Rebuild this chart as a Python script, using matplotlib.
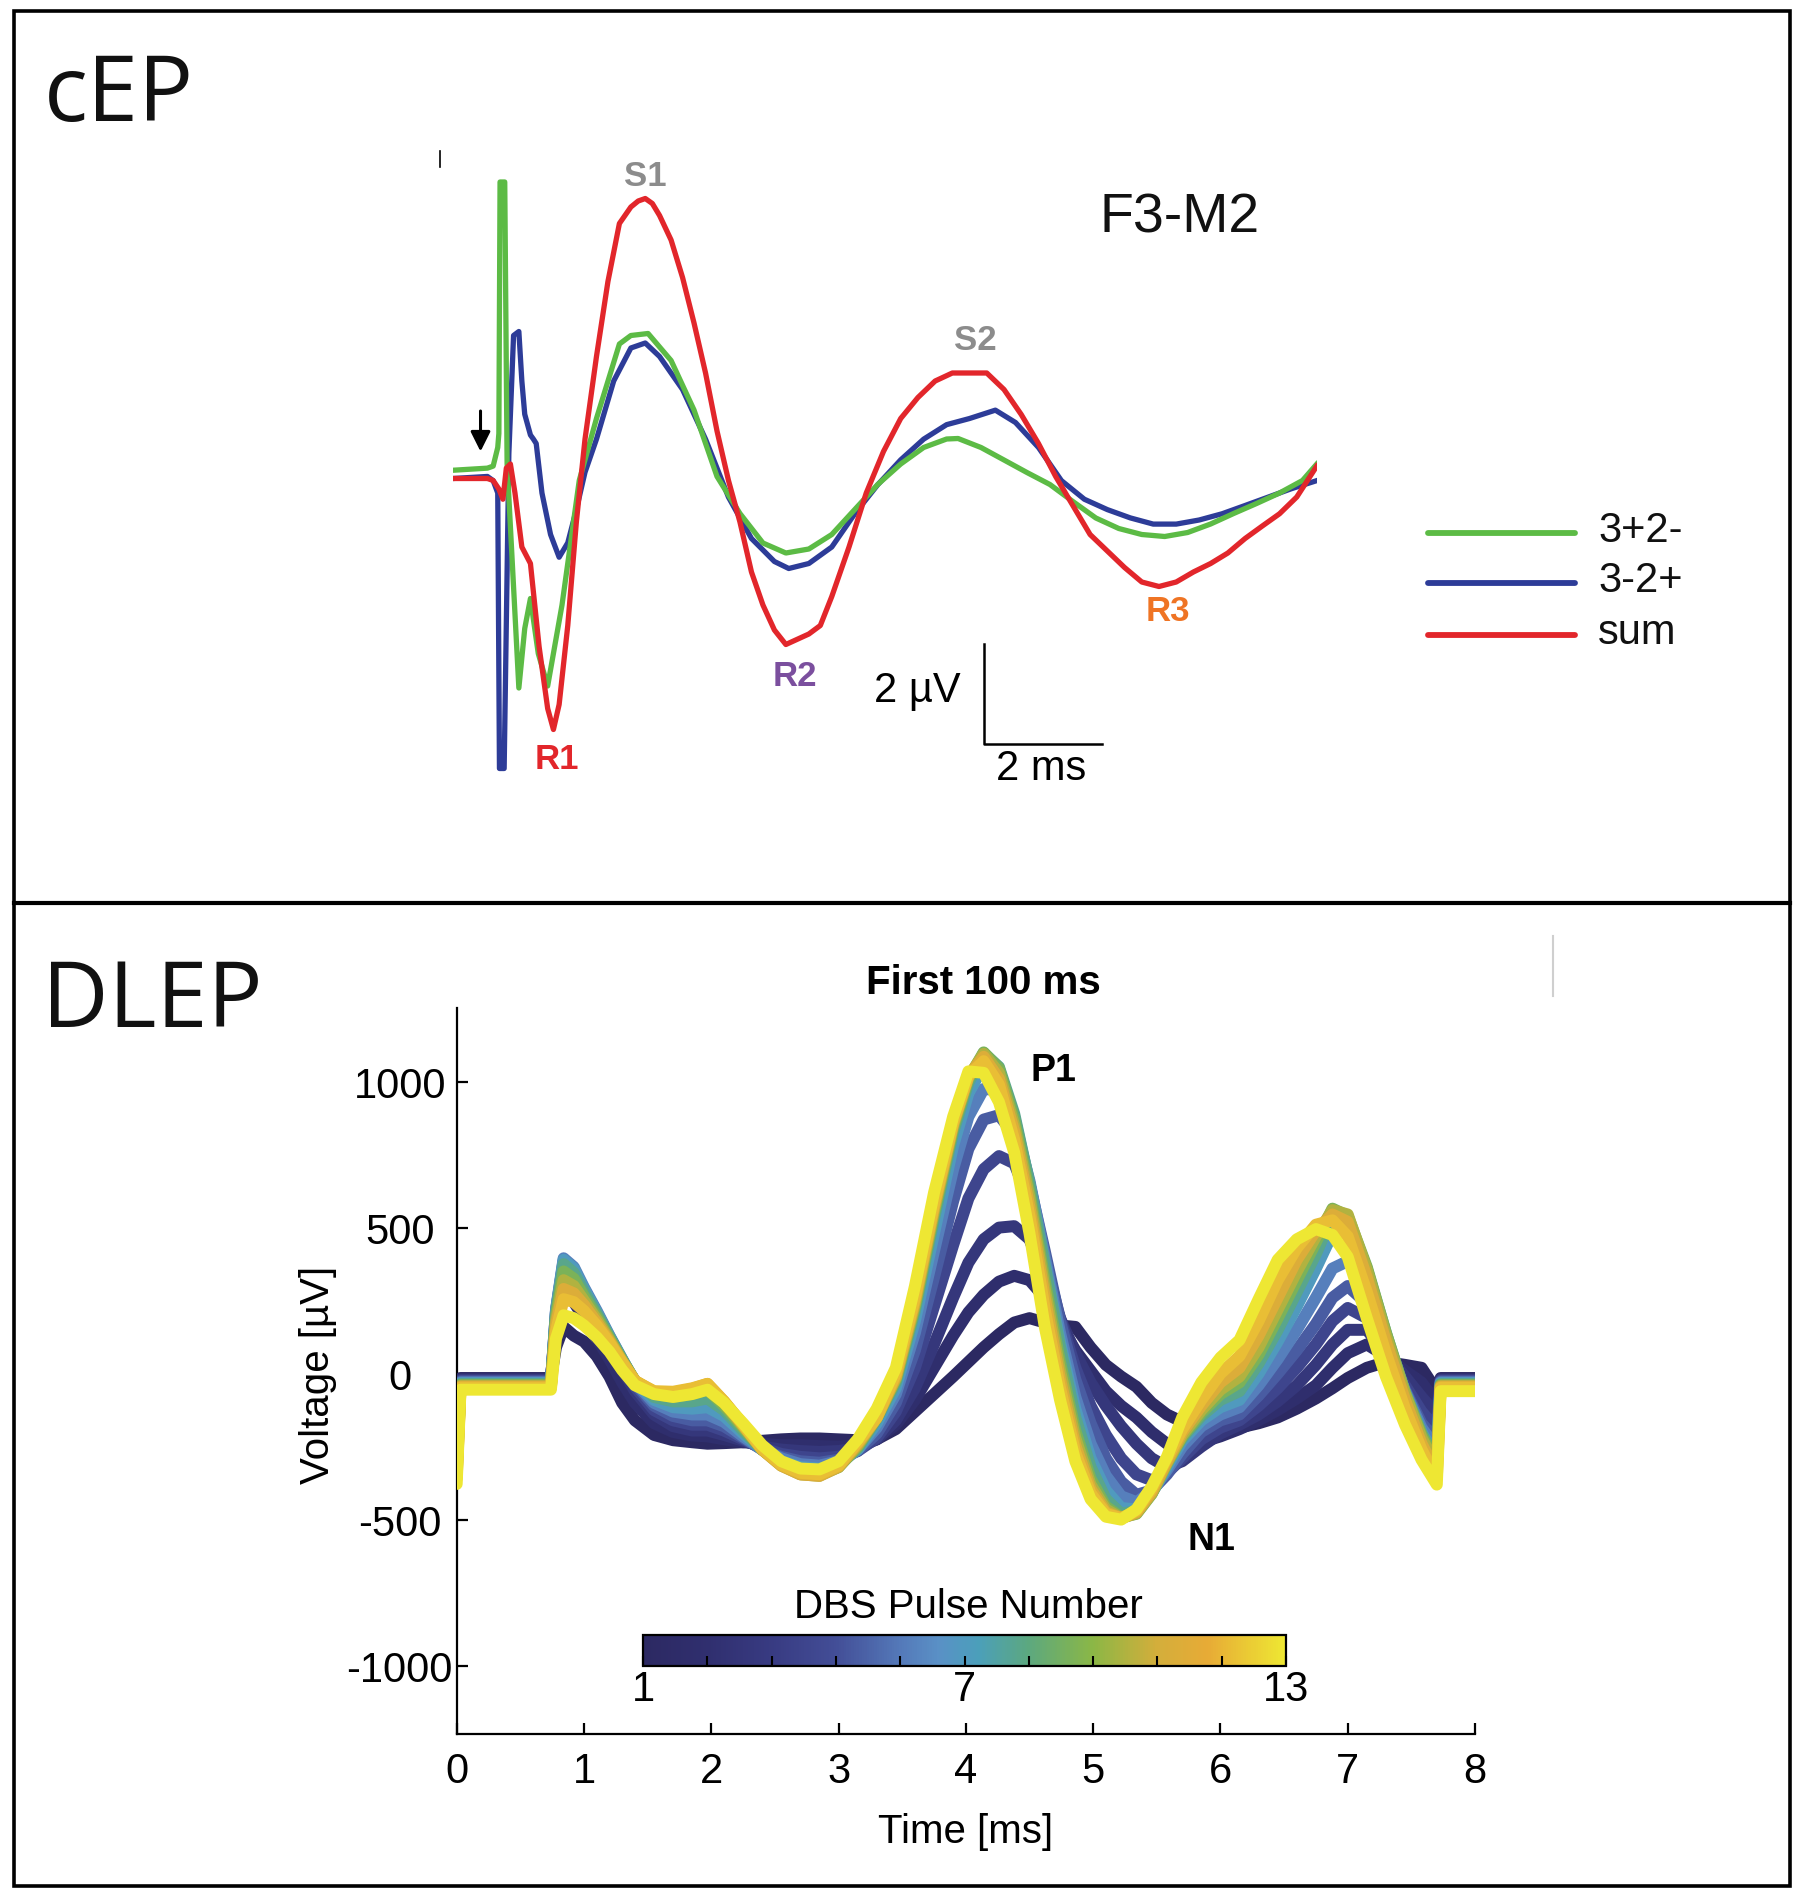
import numpy as np
import matplotlib
matplotlib.use("Agg")
import matplotlib.pyplot as plt
from matplotlib.colors import LinearSegmentedColormap, Normalize
from matplotlib.cm import ScalarMappable
from matplotlib.patches import Rectangle

plt.rcParams['font.family'] = ['Liberation Sans', 'DejaVu Sans']

# ---------------- cEP panel data (time in ms, amplitude in uV) ----------------
cep_green_t = [0.0, 0.585, 0.683, 0.761, 0.78, 0.80, 0.88, 0.92, 1.12, 1.22,
               1.317, 1.45, 1.61, 1.854, 2.147, 2.44, 2.83, 3.025, 3.318, 3.709,
               4.099, 4.49, 4.88, 5.271, 5.661, 6.052, 6.442, 6.833, 7.223, 7.614,
               8.004, 8.395, 8.59, 8.98, 9.371, 9.761, 10.152, 10.542, 10.933, 11.323,
               11.714, 12.104, 12.495, 12.885, 13.276, 13.666, 14.057, 14.447, 14.691]
cep_green_v = [0.165, 0.207, 0.248, 0.62, 0.9, 5.93, 5.93, 0.3, -4.19, -3.0,
               -2.40, -3.5, -4.15, -2.53, -0.04, 1.20, 2.69, 2.86, 2.90, 2.36,
               1.37, 0.04, -0.70, -1.29, -1.49, -1.41, -1.12, -0.62, -0.12, 0.29,
               0.62, 0.79, 0.80, 0.62, 0.37, 0.12, -0.12, -0.46, -0.79, -1.0,
               -1.12, -1.16, -1.08, -0.91, -0.70, -0.50, -0.29, -0.04, 0.29]

cep_blue_t = [0.0, 0.585, 0.683, 0.761, 0.79, 0.87, 0.95, 1.03, 1.12, 1.171,
              1.22, 1.317, 1.366, 1.415, 1.513, 1.659, 1.805, 1.952, 2.098, 2.245,
              2.44, 2.733, 3.025, 3.27, 3.513, 3.904, 4.295, 4.685, 5.076, 5.466,
              5.71, 6.052, 6.442, 6.833, 7.223, 7.614, 8.004, 8.395, 8.785, 9.224,
              9.566, 9.957, 10.347, 10.738, 11.128, 11.519, 11.909, 12.30, 12.69, 13.081,
              13.471, 13.862, 14.252, 14.691]
cep_blue_v = [0.0, 0.041, -0.042, -0.29, -5.8, -5.8, 0.5, 2.86, 2.94, 1.95,
              1.285, 0.87, 0.79, 0.70, -0.29, -1.12, -1.575, -1.286, -0.622, 0.124,
              0.787, 1.95, 2.61, 2.71, 2.44, 1.78, 0.787, -0.373, -1.20, -1.66,
              -1.80, -1.70, -1.37, -0.705, -0.125, 0.373, 0.787, 1.077, 1.20, 1.367,
              1.12, 0.621, -0.042, -0.415, -0.622, -0.788, -0.912, -0.912, -0.83, -0.705,
              -0.54, -0.373, -0.207, -0.042]

cep_red_t = [0.0, 0.585, 0.683, 0.78, 0.849, 0.907, 0.976, 1.054, 1.171, 1.317,
             1.464, 1.61, 1.708, 1.805, 1.952, 2.098, 2.245, 2.44, 2.635, 2.83,
             3.025, 3.15, 3.27, 3.39, 3.513, 3.709, 3.904, 4.099, 4.295, 4.49,
             4.685, 4.88, 5.076, 5.271, 5.466, 5.661, 6.052, 6.247, 6.442, 6.735,
             7.028, 7.321, 7.614, 7.907, 8.20, 8.492, 8.785, 9.078, 9.371, 9.664,
             9.957, 10.25, 10.542, 10.835, 11.128, 11.421, 11.714, 12.007, 12.30, 12.592,
             12.885, 13.178, 13.471, 13.764, 14.057, 14.35, 14.691]
cep_red_v = [0.0, 0.0, -0.04, -0.21, -0.415, 0.207, 0.29, -0.29, -1.37, -1.70,
             -3.36, -4.60, -5.02, -4.52, -2.94, -0.87, 0.787, 2.44, 3.94, 5.10,
             5.43, 5.55, 5.60, 5.50, 5.26, 4.77, 4.02, 3.11, 2.11, 0.95,
             -0.04, -0.87, -1.87, -2.53, -3.03, -3.32, -3.11, -2.94, -2.36, -1.37,
             -0.29, 0.54, 1.20, 1.62, 1.95, 2.11, 2.11, 2.11, 1.78, 1.28,
             0.70, 0.04, -0.54, -1.12, -1.45, -1.78, -2.07, -2.16, -2.07, -1.87,
             -1.70, -1.49, -1.20, -0.95, -0.705, -0.37, 0.25]

cep_labels = ["3+2-", "3-2+", "sum"]
cep_colors = ["#5cbb45", "#2d3c98", "#e2262b"]

# peak labels
cep_peak_text = ["S1", "S2", "R1", "R2", "R3"]
cep_peak_t = [3.27, 8.88, 1.76, 5.81, 12.15]
cep_peak_v = [6.05, 2.78, -5.60, -3.94, -2.65]
cep_peak_col = ["#8c8c8c", "#8c8c8c", "#e2262b", "#7b4f9e", "#ef7424"]

# ---------------- DLEP panel data (time in ms, voltage in uV) ----------------
time_ms = [0.00, 0.03, 0.74, 0.78, 0.84, 0.92, 1.00, 1.10, 1.20, 1.30,
           1.40, 1.55, 1.70, 1.85, 1.97, 2.10, 2.25, 2.40, 2.55, 2.70,
           2.85, 3.00, 3.15, 3.30, 3.45, 3.60, 3.75, 3.90, 4.02, 4.14,
           4.26, 4.38, 4.50, 4.62, 4.74, 4.86, 4.98, 5.10, 5.22, 5.34,
           5.46, 5.58, 5.70, 5.85, 6.00, 6.15, 6.30, 6.45, 6.60, 6.75,
           6.88, 7.00, 7.15, 7.30, 7.45, 7.58, 7.70, 7.73, 8.00]

pulse_01 = [-30, -15, -15, 90, 160, 130, 110, 60, -10, -100,
            -160, -210, -228, -235, -240, -238, -235, -230, -225, -222,
            -222, -225, -228, -225, -190, -130, -70, -10, 40, 90,
            135, 175, 190, 175, 165, 160, 90, 30, -10, -45,
            -100, -140, -165, -180, -190, -185, -170, -150, -120, -85,
            -50, -15, 20, 40, 30, 20, -60, -15, -15]
pulse_02 = [-120, -18, -18, 150, 280, 245, 190, 120, 50, -30,
            -100, -170, -200, -212, -215, -225, -235, -240, -245, -245,
            -248, -250, -245, -225, -175, -90, 20, 130, 210, 270,
            315, 335, 320, 260, 170, 80, 10, -60, -110, -150,
            -200, -240, -250, -235, -215, -190, -160, -125, -85, -40,
            20, 70, 100, 60, 10, -30, -100, -18, -18]
pulse_03 = [-200, -21, -21, 180, 330, 300, 240, 165, 90, 15,
            -60, -140, -180, -195, -195, -210, -230, -250, -260, -265,
            -268, -265, -255, -225, -160, -50, 100, 260, 380, 460,
            500, 505, 460, 330, 190, 70, -30, -110, -180, -240,
            -290, -320, -300, -250, -205, -175, -140, -95, -40, 30,
            100, 150, 150, 70, -10, -80, -140, -21, -21]
pulse_04 = [-250, -24, -24, 200, 360, 330, 265, 190, 110, 35,
            -45, -125, -160, -175, -175, -195, -225, -255, -275, -285,
            -290, -285, -265, -220, -130, 20, 230, 440, 600, 700,
            745, 720, 590, 390, 190, 20, -110, -210, -290, -345,
            -365, -340, -290, -225, -185, -160, -110, -50, 20, 100,
            180, 225, 190, 70, -40, -130, -190, -24, -24]
pulse_05 = [-280, -27, -27, 215, 385, 355, 285, 205, 125, 45,
            -35, -110, -145, -160, -160, -180, -220, -260, -285, -300,
            -305, -295, -265, -205, -100, 80, 330, 590, 770, 870,
            885, 820, 650, 420, 180, -20, -170, -290, -370, -415,
            -400, -345, -275, -200, -160, -140, -75, 0, 80, 170,
            260, 300, 240, 90, -55, -170, -230, -27, -27]
pulse_06 = [-300, -30, -30, 220, 395, 365, 295, 215, 130, 50,
            -30, -100, -130, -140, -140, -165, -215, -260, -290, -310,
            -315, -300, -260, -185, -70, 140, 420, 700, 880, 975,
            970, 860, 660, 400, 140, -80, -240, -350, -420, -440,
            -405, -330, -250, -180, -140, -115, -40, 50, 150, 260,
            360, 385, 290, 110, -60, -185, -260, -30, -30]
pulse_07 = [-310, -33, -33, 215, 390, 360, 290, 210, 128, 48,
            -28, -90, -115, -120, -115, -145, -205, -260, -300, -320,
            -325, -310, -260, -170, -50, 180, 480, 780, 960, 1055,
            1020, 880, 650, 380, 110, -120, -290, -400, -460, -465,
            -410, -320, -230, -160, -115, -90, 0, 110, 230, 360,
            480, 490, 340, 130, -65, -200, -290, -33, -33]
pulse_08 = [-320, -36, -36, 205, 375, 345, 280, 205, 125, 48,
            -25, -80, -95, -95, -85, -125, -195, -260, -305, -330,
            -335, -315, -255, -155, -30, 215, 530, 825, 995, 1098,
            1050, 890, 650, 370, 90, -150, -320, -430, -480, -470,
            -400, -300, -220, -145, -90, -60, 35, 150, 280, 410,
            540, 530, 360, 140, -65, -205, -300, -36, -36]
pulse_09 = [-330, -39, -39, 195, 350, 325, 265, 195, 120, 45,
            -25, -70, -80, -70, -55, -110, -185, -260, -310, -340,
            -345, -320, -250, -150, -20, 230, 550, 840, 1010, 1100,
            1045, 870, 620, 320, 40, -195, -360, -455, -492, -480,
            -412, -308, -215, -135, -70, -30, 65, 190, 320, 450,
            565, 540, 365, 140, -65, -210, -310, -39, -39]
pulse_10 = [-340, -42, -42, 180, 320, 300, 250, 185, 115, 42,
            -25, -65, -70, -58, -40, -100, -180, -260, -315, -345,
            -350, -320, -245, -150, -15, 240, 560, 850, 1015, 1095,
            1030, 850, 600, 290, 10, -220, -380, -465, -495, -478,
            -410, -305, -210, -125, -55, -10, 90, 220, 350, 470,
            560, 545, 355, 130, -70, -220, -320, -42, -42]
pulse_11 = [-350, -45, -45, 165, 290, 275, 235, 175, 110, 40,
            -25, -62, -65, -52, -35, -95, -175, -260, -315, -345,
            -350, -318, -240, -150, -10, 250, 570, 855, 1020, 1085,
            1010, 830, 570, 260, -20, -245, -395, -475, -495, -475,
            -405, -300, -200, -110, -30, 20, 130, 260, 390, 490,
            545, 520, 330, 110, -90, -240, -340, -45, -45]
pulse_12 = [-360, -48, -48, 145, 255, 245, 215, 165, 105, 38,
            -25, -60, -62, -50, -35, -95, -175, -258, -312, -340,
            -345, -315, -235, -150, 0, 260, 580, 860, 1020, 1070,
            990, 800, 540, 220, -50, -270, -410, -480, -495, -470,
            -395, -290, -190, -90, 0, 60, 180, 320, 430, 510,
            525, 470, 280, 70, -120, -260, -360, -48, -48]
pulse_13 = [-378, -55, -55, 120, 200, 190, 165, 125, 75, 12,
            -40, -70, -80, -70, -55, -100, -170, -245, -300, -325,
            -328, -300, -225, -120, 20, 300, 620, 880, 1035, 1030,
            930, 757, 480, 160, -90, -300, -430, -490, -500, -465,
            -387, -285, -150, -30, 55, 115, 255, 390, 460, 495,
            475, 400, 190, -10, -175, -295, -380, -60, -60]

dlep_pulses = [pulse_01, pulse_02, pulse_03, pulse_04, pulse_05, pulse_06, pulse_07,
               pulse_08, pulse_09, pulse_10, pulse_11, pulse_12, pulse_13]
pulse_numbers = list(range(1, 14))

x_ticks = [0, 1, 2, 3, 4, 5, 6, 7, 8]
y_ticks = [-1000, -500, 0, 500, 1000]
cbar_ticks = [1, 2.2, 3.4, 4.6, 5.8, 7, 8.2, 9.4, 10.6, 11.8, 13]
cbar_tick_labels = ["1", "", "", "", "", "7", "", "", "", "", "13"]

# parula-like colormap as it appears in the figure
cmap_pos = [0.0, 0.10, 0.20, 0.30, 0.40, 0.46, 0.52, 0.60, 0.70, 0.80, 0.88, 1.0]
cmap_hex = ["#2c2962", "#302f6f", "#383b82", "#434e97", "#5479b9", "#5a90c6",
            "#4b9fbb", "#5ca87f", "#8bb746", "#d3ae3b", "#e7ab36", "#eee733"]
parula_like = LinearSegmentedColormap.from_list("parula_like", list(zip(cmap_pos, cmap_hex)))

# ---------------- figure ----------------
W, H = 1800, 1899
fig = plt.figure(figsize=(W / 100, H / 100), dpi=100)
fig.patch.set_facecolor("white")


def fig_rect(x0, y0, x1, y1):
    return [x0 / W, 1 - y1 / H, (x1 - x0) / W, (y1 - y0) / H]


# ---- top panel (cEP) ----
ax1 = fig.add_axes(fig_rect(453, 150, 1317, 800))
ax1.set_xlim(0, 14.694)
ax1.set_ylim(-6.41, 6.59)
ax1.axis("off")
ax1.plot(cep_green_t, cep_green_v, color=cep_colors[0], lw=3.8, solid_joinstyle="round", zorder=3)
ax1.plot(cep_blue_t, cep_blue_v, color=cep_colors[1], lw=3.8, solid_joinstyle="round", zorder=2)
ax1.plot(cep_red_t, cep_red_v, color=cep_colors[2], lw=3.8, solid_joinstyle="round", zorder=4)

for txt, t, v, c in zip(cep_peak_text, cep_peak_t, cep_peak_v, cep_peak_col):
    ax1.text(t, v, txt, color=c, fontsize=25, fontweight="bold", ha="center", va="center")

ax1.text(12.35, 5.22, "F3-M2", fontsize=40, ha="center", va="center", color="#111111")

# stimulus arrow
ax1.annotate("", xy=(0.468, 0.54), xytext=(0.468, 1.35),
             arrowprops=dict(arrowstyle="-|>", color="black", lw=2.2,
                             mutation_scale=30, shrinkA=0, shrinkB=0))

# scale bar
ax1.plot([9.03, 9.03, 11.03], [-3.31, -5.31, -5.31], color="black", lw=1.8, clip_on=False)
ax1.text(8.64, -4.23, "2 \u00b5V", fontsize=30, ha="right", va="center")
ax1.text(10.0, -5.80, "2 ms", fontsize=30, ha="center", va="center")

# ---- bottom panel (DLEP) ----
ax2 = fig.add_axes(fig_rect(456.7, 1009, 1475, 1735))
ax2.set_xlim(0, 8)
ax2.set_ylim(-1234, 1252)
ax2.patch.set_alpha(0)
norm = Normalize(1, 13)
for k, trace in zip(pulse_numbers, dlep_pulses):
    ax2.plot(time_ms, trace, color=parula_like(norm(k)), lw=8.6,
             solid_joinstyle="round", solid_capstyle="round", zorder=2 + k)

ax2.spines["top"].set_visible(False)
ax2.spines["right"].set_visible(False)
for s in ("left", "bottom"):
    ax2.spines[s].set_linewidth(1.6)
ax2.set_xticks(x_ticks)
ax2.set_yticks(y_ticks)
ax2.set_xticklabels([str(v) for v in x_ticks])
ax2.set_yticklabels([str(v) for v in y_ticks], ha="center")
ax2.tick_params(axis="both", direction="in", length=8, width=1.6, labelsize=30)
ax2.tick_params(axis="x", pad=12)
ax2.tick_params(axis="y", pad=41)

ax2.text(4.69, 1040, "P1", fontsize=27, fontweight="bold", ha="center", va="center")
ax2.text(5.93, -566, "N1", fontsize=27, fontweight="bold", ha="center", va="center")

# colourbar
cax = fig.add_axes(fig_rect(643, 1636, 1286, 1667))
sm = ScalarMappable(norm=norm, cmap=parula_like)
cb = fig.colorbar(sm, cax=cax, orientation="horizontal")
cb.outline.set_linewidth(1.6)
cb.set_ticks(cbar_ticks)
cb.set_ticklabels(cbar_tick_labels)
cax.tick_params(axis="x", direction="in", length=7, width=1.5, labelsize=30, pad=2,
                bottom=True, top=False)

# ---- overlay in pixel coordinates: frame, panel letters, legend, axis titles ----
ov = fig.add_axes([0, 0, 1, 1])
ov.set_xlim(0, W)
ov.set_ylim(H, 0)
ov.axis("off")

ov.add_patch(Rectangle((14, 12), 1776, 1875, fill=False, edgecolor="black", lw=2.6))
ov.plot([14, 1790], [904, 904], color="black", lw=3.0)

ov.text(44, 121, "cEP", fontsize=66, family=["Open Sans", "DejaVu Sans"],
        ha="left", va="baseline", color="#111111")
ov.text(42, 1027, "DLEP", fontsize=66, family=["Open Sans", "DejaVu Sans"],
        ha="left", va="baseline", color="#111111")

legend_y = [534, 584, 636]
for lab, col, y in zip(cep_labels, cep_colors, legend_y):
    ov.plot([1428, 1575], [y, y], color=col, lw=4.2, solid_capstyle="round")
    ov.text(1598, y - 3, lab, fontsize=30, ha="left", va="center", color="#111111")

ov.text(983, 983, "First 100 ms", fontsize=29, fontweight="bold", ha="center", va="center")
ov.text(968, 1607, "DBS Pulse Number", fontsize=29, ha="center", va="center")
ov.text(318, 1375, "Voltage [\u00b5V]", fontsize=29, rotation=90, ha="center", va="center")
ov.text(966, 1832, "Time [ms]", fontsize=29, ha="center", va="center")

# small scan artefacts of the original figure
ov.plot([440, 440], [152, 168], color="black", lw=1.2)
ov.plot([1553, 1553], [937, 997], color="#cfcfcf", lw=1.5)

fig.savefig("out.png", dpi=100, facecolor="white")
